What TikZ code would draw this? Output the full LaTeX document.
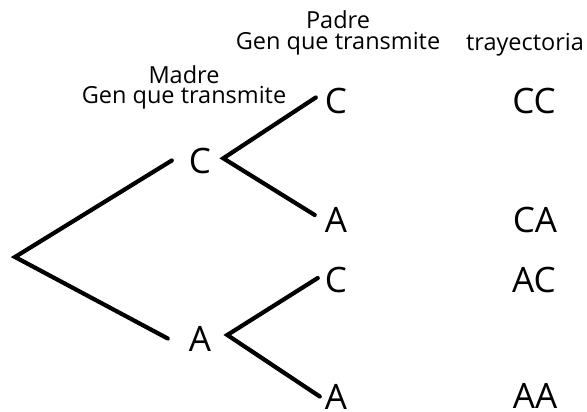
\documentclass[tikz,border=0pt]{standalone}
\usepackage{fontspec}
\setmainfont{Open Sans}
\usepackage{tikz}
\usetikzlibrary{positioning}

\begin{document}
\begin{tikzpicture}[x=1pt,y=-1pt,
  gene/.style={inner sep=0pt,font=\fontsize{35}{40}\selectfont},
  heading/.style={inner sep=0pt,align=center,anchor=base,
    font=\fontsize{23.5}{21}\selectfont},
  branch/.style={line width=4.2pt,line cap=round}
]
\useasboundingbox (0,0) rectangle (587,412);

% madre
\coordinate (root) at (15,257);
\node[gene] (mC) at (200,160.5) {C};
\node[gene] (mA) at (200,338.5) {A};
\coordinate (forkC) at (223.3,158.3);
\coordinate (forkA) at (227.3,335);

% padre
\node[gene] (pCC) at (336,100.5) {C};
\node[gene] (pCA) at (336,220) {A};
\node[gene] (pAC) at (336,280) {C};
\node[gene] (pAA) at (336,396.5) {A};

% trayectorias
\node[gene] (tCC) at (534,100.5) {CC};
\node[gene] (tCA) at (535,220) {CA};
\node[gene] (tAC) at (534,280) {AC};
\node[gene] (tAA) at (535,395.5) {AA};

% titulos
\node[heading] (padre) at (338,50) {Padre\\Gen que transmite};
\node[heading] (tray) at (525,51) {trayectoria};
\node[heading,font=\fontsize{23.5}{20}\selectfont] (madre) at (184,103)
  {Madre\\Gen que transmite};

% ramas
\draw[branch] ([xshift=-17pt]mC.west) -- (root) -- ([xshift=-21pt]mA.west);
\draw[branch] ([shift={(-9,-3)}]pCC.west) -- (forkC)
  -- ([shift={(-10,-5)}]pCA.west);
\draw[branch] ([shift={(-7,-2)}]pAC.west) -- (forkA)
  -- ([shift={(-5,0)}]pAA.west);
\end{tikzpicture}
\end{document}
